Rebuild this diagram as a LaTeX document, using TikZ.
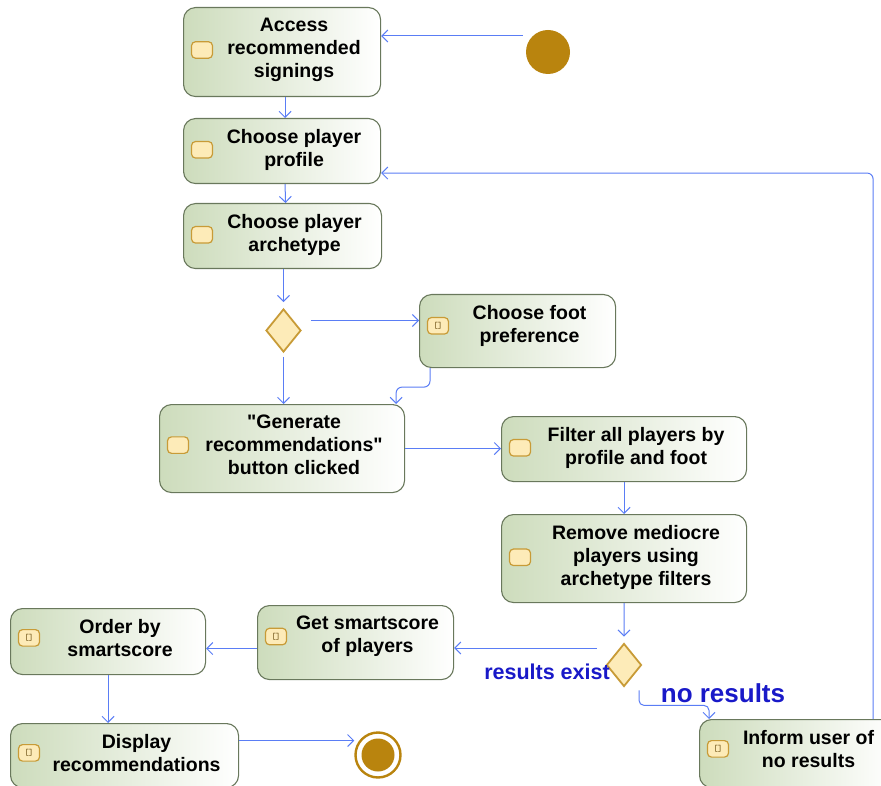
\documentclass[tikz,border=0pt]{standalone}
\usepackage{fontspec}
\setmainfont{Liberation Sans}
\usetikzlibrary{shapes.geometric,arrows.meta}
\definecolor{flowblue}{RGB}{90,125,245}
\definecolor{guardblue}{RGB}{25,25,200}
\definecolor{boxgreen}{RGB}{205,220,188}
\definecolor{boxedge}{RGB}{105,120,92}
\definecolor{iconfill}{RGB}{253,235,184}
\definecolor{iconedge}{RGB}{200,155,55}
\definecolor{gold}{RGB}{185,132,14}
\newcommand{\brk}{[\kern-0.3pt]}
\newcommand{\activity}[7]{%
  \node [actbox, minimum width=#4, minimum height=#5, anchor=north west] (#1) at (#2,#3) {};
  \node [acttext, anchor=north] (#1-t) at ([xshift=12pt,yshift=-11pt]#1.north) {#7};
  \node [icon, xshift=19pt] (#1-i) at (#1-t.center -| #1.west) {#6};
}

\begin{document}
\begin{tikzpicture}[x=1pt,y=-1pt,
  actbox/.style={draw=boxedge, line width=1.1pt, rounded corners=12pt, left color=boxgreen, right color=white},
  acttext/.style={inner sep=0pt, align=center, font=\bfseries\fontsize{19.5}{23}\selectfont},
  icon/.style={draw=iconedge, fill=iconfill, line width=1.2pt, rounded corners=4pt, minimum width=21pt, minimum height=16.5pt, inner sep=0pt, text=iconedge!60!black, font=\ttfamily\bfseries\fontsize{9}{9}\selectfont},
  choice/.style={diamond, draw=iconedge, fill=iconfill, line width=1.8pt, inner sep=0pt, minimum width=35pt, minimum height=43pt},
  flow/.style={draw=flowblue, line width=1pt, -{Straight Barb[length=6pt,width=12pt]}},
  guard/.style={text=guardblue, inner sep=0pt, font=\bfseries}]
  \useasboundingbox (0,0) rectangle (881,786);

  \activity{access}{183}{7}{197}{89}{}{Access\\recommended\\signings}
  \activity{profile}{183}{118}{197}{65}{}{Choose player\\profile}
  \activity{archetype}{183}{203}{198}{65}{}{Choose player\\archetype}
  \activity{foot}{419}{294}{196}{73}{\brk}{Choose foot\\preference}
  \activity{generate}{159}{404}{245}{88}{}{\textquotedbl Generate\\recommendations\textquotedbl\\button clicked}
  \activity{filter}{501}{416}{245}{65}{}{Filter all players by\\profile and foot}
  \activity{remove}{501}{514}{245}{88}{}{Remove mediocre\\players using\\archetype filters}
  \activity{smartscore}{257}{605}{196}{74}{\brk}{Get smartscore\\of players}
  \activity{order}{10}{608}{195}{66}{\brk}{Order by\\smartscore}
  \activity{display}{10}{723}{228}{64}{\brk}{Display\\recommendations}
  \activity{inform}{699}{719}{194}{68}{\brk}{Inform user of\\no results}

  \node [circle, fill=gold, minimum size=44pt, inner sep=0pt] (start) at (548,52) {};
  \node [circle, draw=gold, line width=2.4pt, fill=white, minimum size=45pt, inner sep=0pt] (end) at (378,755) {};
  \node [circle, fill=gold, minimum size=33pt, inner sep=0pt] (end-i) at (end.center) {};
  \node [choice] (foot-q) at (283.5,330.5) {};
  \node [choice] (result-q) at (624,665) {};
  \node [guard, font=\bfseries\fontsize{21.5}{24}\selectfont] (exist) at (547,672) {results exist};
  \node [guard, font=\bfseries\fontsize{26}{28}\selectfont] (none) at (723,693) {no results};

  \draw [flow] ([xshift=-3pt,yshift=16pt]start.west) coordinate (s1) -- (s1 -| access.east);
  \draw [flow] ([xshift=3pt]access.south) -- ([xshift=3pt]profile.north);
  \draw [flow] ([xshift=3pt]profile.south) -- ([xshift=3pt]archetype.north);
  \draw [flow] (foot-q.north |- archetype.south) -- ([yshift=6pt]foot-q.north);
  \draw [flow] ([xshift=9pt,yshift=10pt]foot-q.east) coordinate (q1) -- (q1 -| foot.west);
  \draw [flow] ([yshift=-4pt]foot-q.south) -- (foot-q.south |- generate.north);
  \draw [flow, rounded corners=6pt] ([xshift=11pt]foot.south west) -- ++(0,19) -| ([xshift=-9pt]generate.north east);
  \draw [flow] (generate.east) -- (generate.east -| filter.west);
  \draw [flow] (filter.south) -- (filter.south |- remove.north);
  \draw [flow] (remove.south) -- ([yshift=6pt]result-q.north);
  \draw [flow] ([xshift=-9pt,yshift=17pt]result-q.west) coordinate (q2) -- (q2 -| smartscore.east);
  \draw [flow, rounded corners=5pt] ([xshift=15pt,yshift=-3pt]result-q.south) -- ++(0,15) -| ([xshift=10pt]inform.north west);
  \draw [flow, rounded corners=6pt] ([xshift=-21pt]inform.north east) |- ([yshift=-22pt]profile.east);
  \draw [flow] ([yshift=-6pt]smartscore.west) coordinate (g1) -- (g1 -| order.east);
  \draw [flow] (order.south) -- (order.south |- display.north);
  \draw [flow] ([yshift=15pt]display.east) coordinate (d1) -- (d1 -| end.west);
\end{tikzpicture}
\end{document}
